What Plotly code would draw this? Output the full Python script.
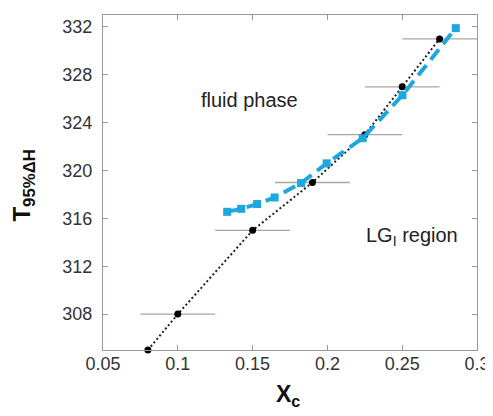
import plotly.graph_objects as go

# Data
xc_black = [0.08, 0.10, 0.15, 0.19, 0.225, 0.25, 0.275]
t_black = [305.0, 308.0, 315.0, 319.0, 323.0, 327.0, 331.0]
xerr_black = [0.0, 0.025, 0.025, 0.025, 0.025, 0.025, 0.025]

xc_blue = [0.133, 0.1424, 0.153, 0.1647, 0.1824, 0.1995, 0.2236, 0.2502, 0.2858]
t_blue = [316.55, 316.8, 317.2, 317.75, 318.95, 320.6, 322.7, 326.3, 331.9]

x_ticks = [0.05, 0.1, 0.15, 0.2, 0.25, 0.3]
x_ticklabels = ["0.05", "0.1", "0.15", "0.2", "0.25", "0.3"]
y_ticks = [308, 312, 316, 320, 324, 328, 332]

FONT = "Liberation Sans, Arial, sans-serif"
AX = "#a39593"
ERR = "#b0a4a2"
BLUE = "#1ea6de"

fig = go.Figure()

fig.add_trace(go.Scatter(
    x=xc_black, y=t_black, mode="lines+markers",
    line=dict(color="#222222", width=2, dash="2px,2.5px"),
    marker=dict(color="black", size=7, symbol="circle"),
    error_x=dict(type="data", array=xerr_black, visible=True,
                 color=ERR, thickness=1.3, width=0),
    cliponaxis=False, showlegend=False,
))

fig.add_trace(go.Scatter(
    x=xc_blue, y=t_blue, mode="lines+markers",
    line=dict(color=BLUE, width=4, dash="13px,7px"),
    marker=dict(color=BLUE, size=8, symbol="square"),
    cliponaxis=False, showlegend=False,
))

fig.add_annotation(x=0.148, y=325.9, xref="x", yref="y", text="fluid phase",
                   showarrow=False, font=dict(family=FONT, size=20, color="#222222"))
fig.add_annotation(x=0.2563, y=314.5, xref="x", yref="y", text="LG<sub>I</sub> region",
                   showarrow=False, font=dict(family=FONT, size=20, color="#222222"))

# Axis titles
fig.add_annotation(x=-0.212, y=0.49, xref="paper", yref="paper",
                   text="<b>T<sub>95%ΔH</sub></b>", textangle=-90, showarrow=False,
                   xanchor="center", yanchor="middle",
                   font=dict(family=FONT, size=24, color="#111111"))
fig.add_annotation(x=0.494, y=-0.135, xref="paper", yref="paper",
                   text="<b>X<sub>c</sub></b>", showarrow=False,
                   xanchor="center", yanchor="middle",
                   font=dict(family=FONT, size=23, color="#111111"))

axis_common = dict(
    showline=True, linecolor=AX, linewidth=1.2, mirror="ticks",
    ticks="inside", ticklen=5, tickcolor=AX, tickwidth=1,
    showgrid=False, zeroline=False, automargin=False,
    tickfont=dict(family=FONT, size=18, color="#333333"),
)

fig.update_xaxes(range=[0.05, 0.3], tickvals=x_ticks, ticktext=x_ticklabels,
                 ticklabelstandoff=-3, **axis_common)
fig.update_yaxes(range=[305, 333], tickvals=y_ticks,
                 ticklabelstandoff=6, **axis_common)

# The page places the figure 8 px in from the top-left corner,
# so the figure is sized to end at the window edges.
fig.update_layout(
    width=485, height=408,
    margin=dict(l=95, r=16, t=7, b=66),
    paper_bgcolor="white", plot_bgcolor="white",
    font=dict(family=FONT),
)

fig.write_html("out.html")
